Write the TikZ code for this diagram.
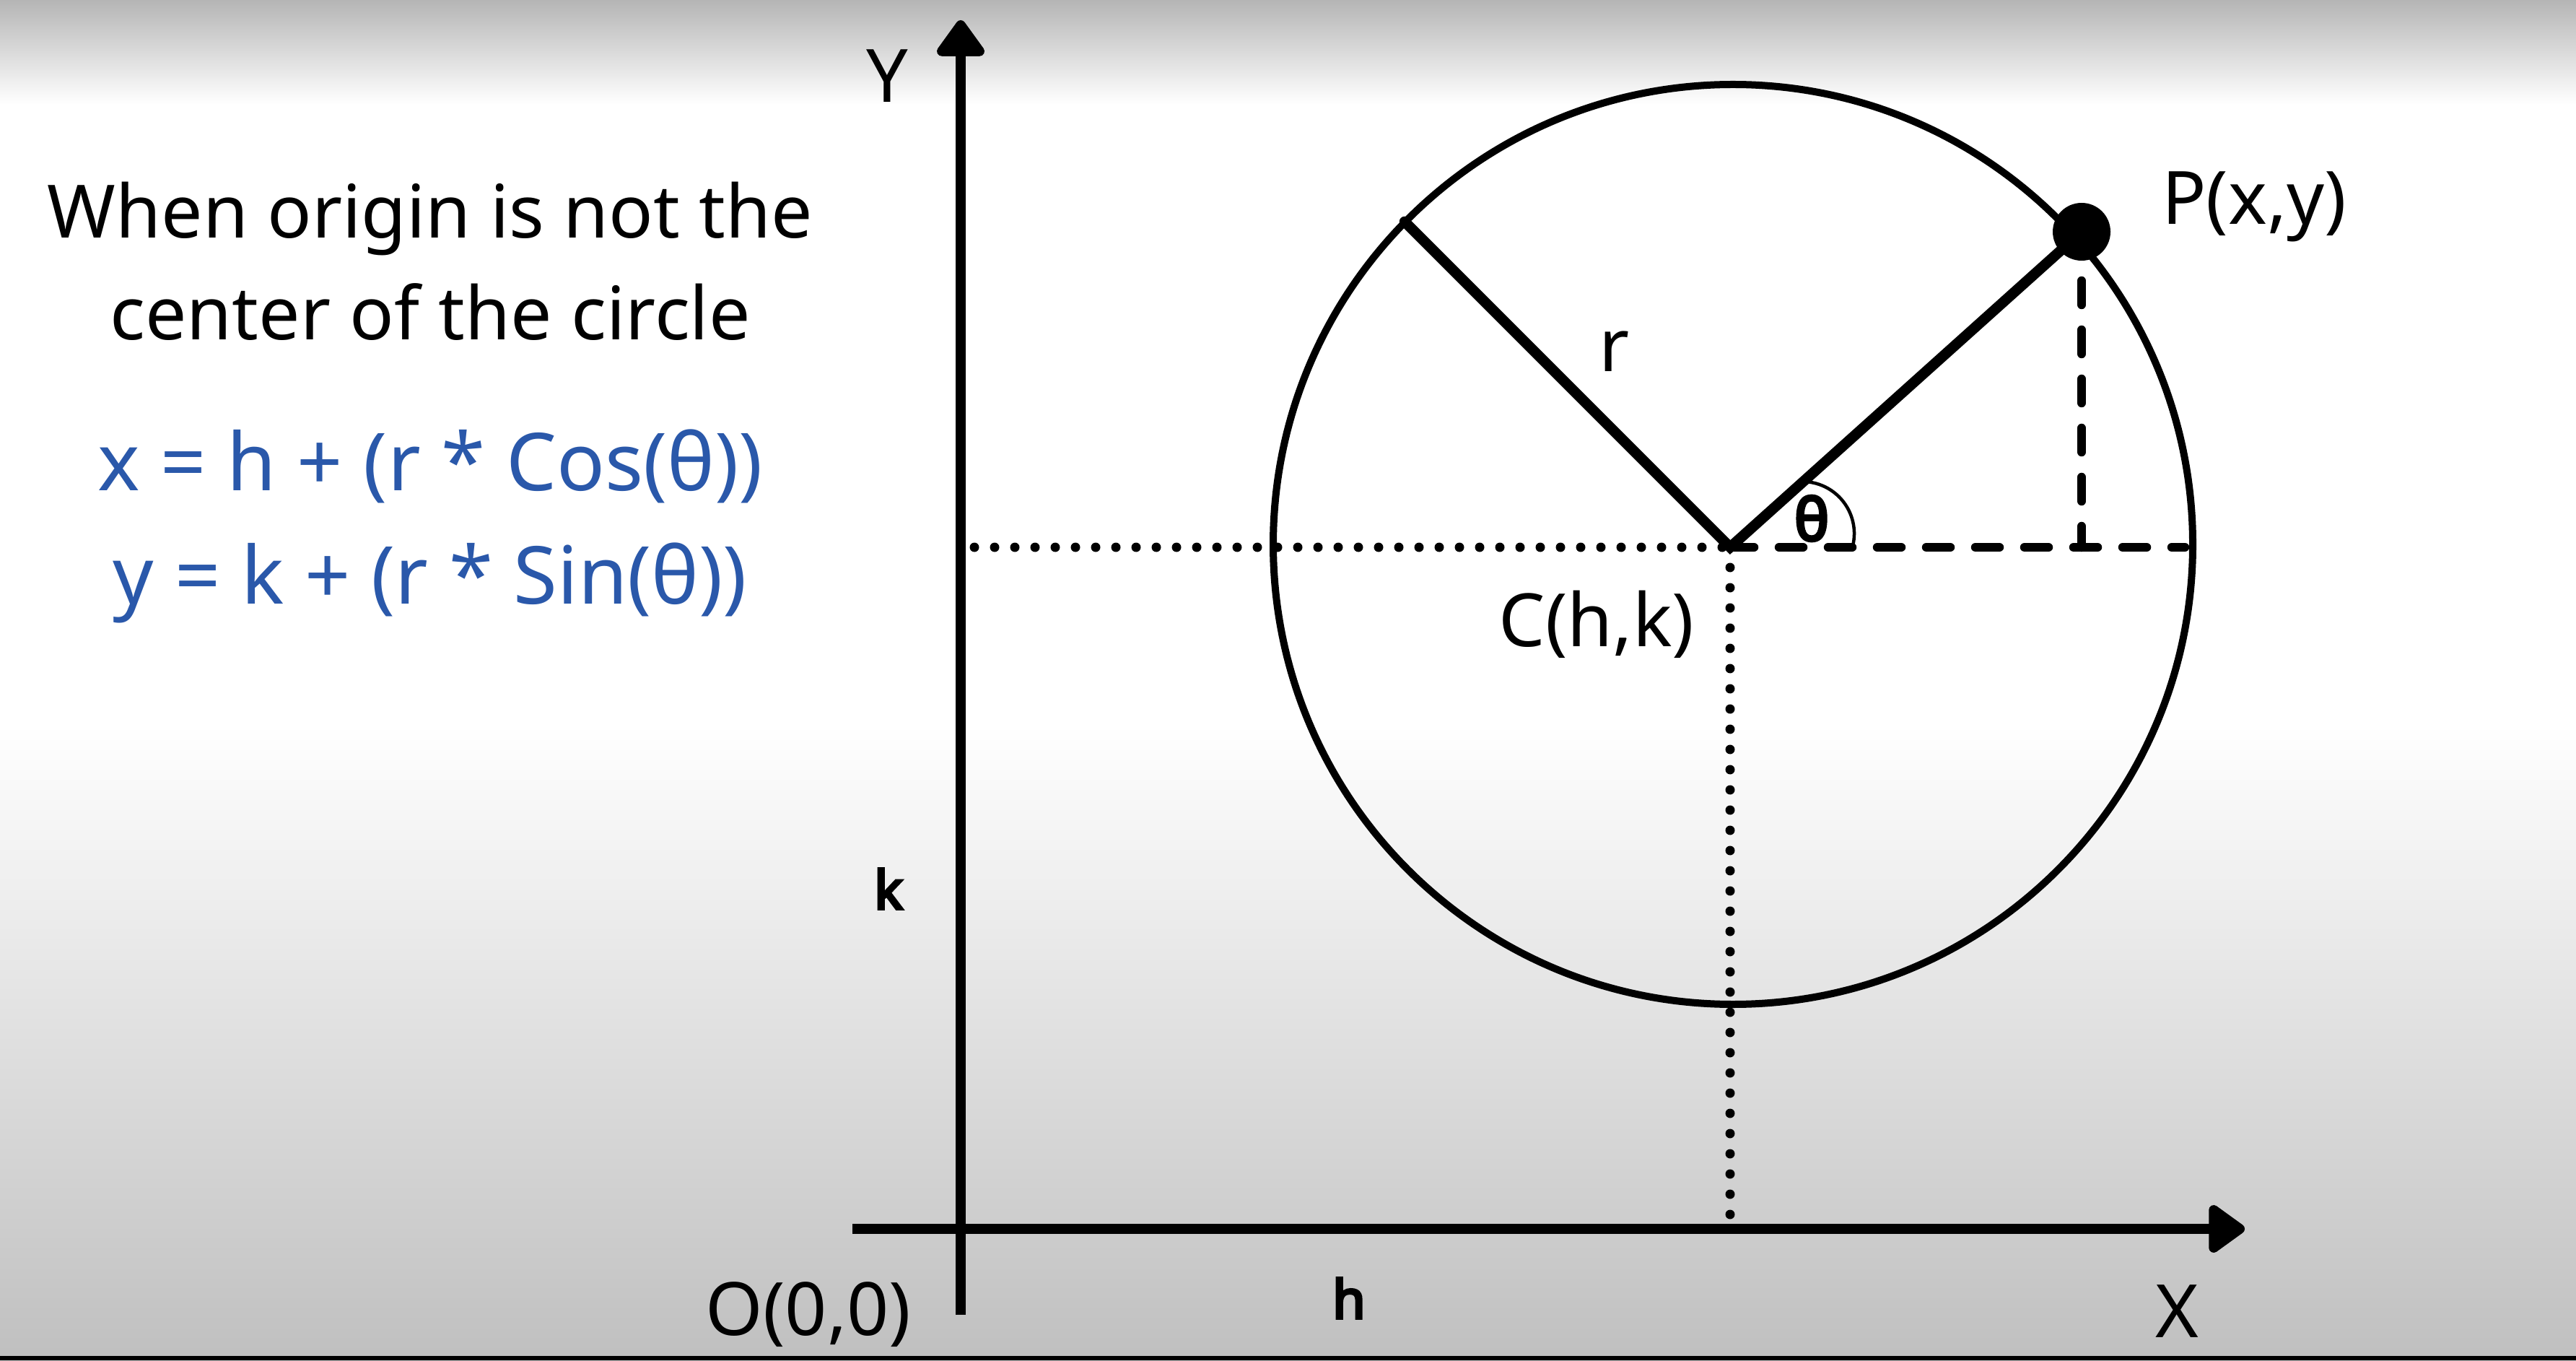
\documentclass[tikz,border=0pt]{standalone}
\usepackage{fontspec}
\setmainfont{Noto Sans}[AutoFakeBold=5]
\usetikzlibrary{arrows.meta}
\definecolor{formblue}{RGB}{42,88,170}
\newcommand{\bigtxt}{\fontsize{29}{40}\selectfont}
\newcommand{\formtxt}{\fontsize{31.5}{44.5}\selectfont}
\newcommand{\smalltxt}{\fontsize{21}{24}\selectfont\bfseries}

\begin{document}
\begin{tikzpicture}[
  axis/.style={line width=1.35mm,-{Triangle[length=5.5mm,width=7.5mm,round]}},
  radius/.style={line width=1.45mm},
  rim/.style={line width=1mm},
  dotline/.style={line width=1.3mm,line cap=round,dash pattern=on 0pt off 2.8mm},
  dashline/.style={line width=1.25mm,line cap=round,dash pattern=on 3.3mm off 3.5mm},
  lbl/.style={font=\bigtxt,inner sep=0pt},
  small/.style={font=\smalltxt,inner sep=0pt}]
  % background
  \useasboundingbox (0,0) rectangle (35.69,18.84);
  \fill[white] (0,0) rectangle (35.69,18.84);
  \shade[top color=black!29,bottom color=white] (0,17.4) rectangle (35.69,18.84);
  \shade[top color=white,bottom color=black!25] (0,0) rectangle (35.69,8.8);
  \fill[black] (0,0) rectangle (35.69,0.06);

  \coordinate (C) at (23.97,11.26);
  \coordinate (P) at (28.84,15.63);
  \coordinate (R) at (19.46,15.77);
  \coordinate (Yb) at (13.31,0.63);
  \coordinate (Yt) at (13.31,18.56);
  \coordinate (Xl) at (11.81,1.82);
  \coordinate (Xr) at (31.10,1.82);
  \coordinate (Hs) at (13.50,11.26);
  \coordinate (De) at (30.27,11.26);
  \coordinate (Pf) at (P |- C);
  \coordinate (Cf) at (C |- Xl);

  \draw[rim] (24.01,11.30) circle (6.37);
  \draw[axis] (Yb) -- (Yt);
  \draw[axis] (Xl) -- (Xr);
  \draw[dotline] (Hs) -- (C);
  \draw[dotline] (C) -- (Cf);
  \draw[dashline] (C) -- (De);
  \draw[dashline] (P) -- (Pf);
  \draw[radius,line cap=round] (R) -- (C) -- (P);
  \fill (P) circle (0.4);
  \draw[line width=0.45mm] (24.97,12.17) arc (90:-15:0.72);

  \node[lbl] (ylab) at (12.29,17.79) {Y};
  \node[lbl] (xlab) at (30.16,0.68) {X};
  \node[lbl] (olab) at (11.20,0.63) {O(0,0)};
  \node[small] (hlab) at (18.69,0.86) {h};
  \node[small] (klab) at (12.31,6.53) {k};
  \node[lbl] (rlab) at (22.37,13.97) {r};
  \node[lbl] (clab) at (22.12,10.19) {C(h,k)};
  \node[lbl] (plab) at (31.23,15.98) {P(x,y)};
  \node[small,font=\fontsize{23}{26}\selectfont\bfseries] (tlab) at (25.10,11.66) {θ};
  \node[lbl,align=center] (title) at (5.96,15.22)
    {When origin is not the\\center of the circle};
  \node[lbl,font=\formtxt,align=center,text=formblue] (form) at (5.96,11.55)
    {x = h + (r * Cos(θ))\\y = k + (r * Sin(θ))};
\end{tikzpicture}
\end{document}
